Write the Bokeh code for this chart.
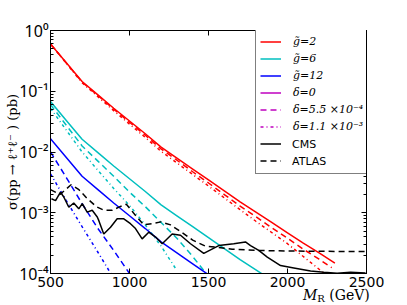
import numpy as np
from bokeh.plotting import figure
from bokeh.layouts import column
from bokeh.models import (Legend, LegendItem, LogAxis, LinearAxis, FixedTicker, Div,
                          Range1d, CustomJSTickFormatter)
from bokeh.embed import file_html
from bokeh.resources import INLINE

# ---------------- data (sigma given as log10 of pb) ----------------
mr_red = [500, 600, 700, 800, 900, 1000, 1100, 1200, 1300, 1400, 1500, 1600, 1700, 1800, 1900, 2000, 2100, 2200, 2300]
log_red_g2 = [-0.22, -0.53, -0.84, -1.06, -1.28, -1.49, -1.70, -1.92, -2.10, -2.28, -2.46, -2.64, -2.82, -2.99, -3.16, -3.33, -3.50, -3.66, -3.83]
mr_red_d55 = [500, 600, 700, 800, 900, 1000, 1100, 1200, 1300, 1400, 1500, 1600, 1700, 1800, 1900, 2000, 2100, 2200, 2280]
log_red_d55 = [-0.22, -0.535, -0.85, -1.07, -1.295, -1.51, -1.725, -1.95, -2.135, -2.325, -2.51, -2.70, -2.89, -3.065, -3.245, -3.42, -3.60, -3.765, -3.905]
mr_red_d11 = [500, 600, 700, 800, 900, 1000, 1100, 1200, 1300, 1400, 1500, 1600, 1700, 1800, 1900, 2000, 2100, 2200, 2230]
log_red_d11 = [-0.22, -0.54, -0.86, -1.09, -1.32, -1.54, -1.76, -1.99, -2.18, -2.37, -2.56, -2.755, -2.95, -3.14, -3.325, -3.51, -3.72, -3.93, -4.0]

mr_cyan = [500, 600, 700, 800, 900, 1000, 1100, 1200, 1300, 1400, 1500, 1600, 1700, 1800, 1900]
log_cyan_g6 = [-1.17, -1.48, -1.79, -2.01, -2.23, -2.44, -2.65, -2.87, -3.05, -3.23, -3.41, -3.59, -3.77, -3.94, -4.11]
mr_cyan_d55 = [500, 600, 700, 800, 900, 1000, 1100, 1200, 1300, 1400, 1500]
log_cyan_d55 = [-1.22, -1.56, -1.90, -2.15, -2.40, -2.66, -2.90, -3.16, -3.42, -3.72, -4.05]
mr_cyan_d11 = [500, 600, 700, 800, 900, 1000, 1100, 1200, 1300]
log_cyan_d11 = [-1.28, -1.64, -2.00, -2.30, -2.60, -2.88, -3.20, -3.55, -3.95]

mr_blue = [500, 600, 700, 800, 900, 1000, 1100, 1200, 1300, 1400, 1500]
log_blue_g12 = [-1.78, -2.09, -2.40, -2.62, -2.84, -3.05, -3.26, -3.48, -3.66, -3.84, -4.02]
mr_blue_d55 = [500, 600, 700, 800, 900, 1000]
log_blue_d55 = [-2.00, -2.42, -2.85, -3.26, -3.62, -4.00]
mr_blue_d11 = [500, 600, 700, 800, 900]
log_blue_d11 = [-2.36, -2.80, -3.23, -3.65, -4.08]

mr_cms = [506, 532, 563, 584, 616, 647, 679, 701, 732, 764, 796, 806, 837, 880, 922, 964, 1006, 1038,
          1080, 1122, 1165, 1207, 1270, 1323, 1386, 1470, 1565, 1660, 1734, 1766, 1818, 1872, 1956,
          2040, 2146, 2230, 2314, 2399, 2494]
log_cms = [-2.77, -2.80, -2.66, -2.74, -2.91, -2.84, -2.935, -2.85, -2.99, -2.96, -3.07, -3.13, -3.35, -3.24,
           -3.10, -3.10, -3.18, -3.26, -3.43, -3.32, -3.40, -3.51, -3.35, -3.37, -3.51, -3.67, -3.54, -3.51,
           -3.48, -3.54, -3.62, -3.73, -3.87, -3.91, -3.96, -3.98, -3.995, -3.98, -3.99]

mr_atlas = [500, 560, 630, 680, 730, 790, 840, 890, 940, 980, 1040, 1090, 1140, 1200, 1260, 1330, 1400,
            1480, 1560, 1650, 1800, 2000, 2500]
log_atlas = [-2.62, -2.70, -2.54, -2.62, -2.76, -2.90, -2.96, -2.96, -2.90, -2.86, -3.05, -3.20, -3.18,
             -3.15, -3.20, -3.32, -3.45, -3.55, -3.57, -3.60, -3.62, -3.63, -3.64]

legend_labels = ["g\u0303=2", "g\u0303=6", "g\u0303=12", "\u03b4=0",
                 "\u03b4=5.5 \u00d710\u207b\u2074", "\u03b4=1.1 \u00d710\u207b\u00b3"]
exp_labels = ["CMS", "ATLAS"]

x_ticks = [500, 1000, 1500, 2000, 2500]
y_tick_exps = [-4, -3, -2, -1, 0]
y_title = "\u03c3(pp \u2192 \u2113\u207a\u2113\u207b ) (pb)"

# ---------------- styles ----------------
RED, CYAN, BLUE, MAG = "#ff0000", "#00bfbf", "#0000ff", "#bf00bf"
DASH, DASHDOT = "6 4", "3 3 1 3"
LW = 1.5

p = figure(frame_width=316, frame_height=243, min_border_left=50, min_border_top=30,
           min_border_right=41, min_border_bottom=17,
           x_range=Range1d(500, 2500), y_range=Range1d(1e-4, 1), y_axis_type="log",
           output_backend="svg", toolbar_location=None)
p.grid.visible = False
p.outline_line_color = "black"
p.outline_line_width = 1
p.background_fill_color = "white"
p.border_fill_color = "white"


def sig(logs):
    return [10.0 ** v for v in logs]


r_red = p.line(mr_red, sig(log_red_g2), line_color=RED, line_width=LW)
p.line(mr_red_d55, sig(log_red_d55), line_color=RED, line_width=LW, line_dash=DASH)
p.line(mr_red_d11, sig(log_red_d11), line_color=RED, line_width=LW, line_dash=DASHDOT)

r_cyan = p.line(mr_cyan, sig(log_cyan_g6), line_color=CYAN, line_width=LW)
p.line(mr_cyan_d55, sig(log_cyan_d55), line_color=CYAN, line_width=LW, line_dash=DASH)
p.line(mr_cyan_d11, sig(log_cyan_d11), line_color=CYAN, line_width=LW, line_dash=DASHDOT)

r_blue = p.line(mr_blue, sig(log_blue_g12), line_color=BLUE, line_width=LW)
p.line(mr_blue_d55, sig(log_blue_d55), line_color=BLUE, line_width=LW, line_dash=DASH)
p.line(mr_blue_d11, sig(log_blue_d11), line_color=BLUE, line_width=LW, line_dash=DASHDOT)

r_cms = p.line(mr_cms, sig(log_cms), line_color="black", line_width=LW)
r_atlas = p.line(mr_atlas, sig(log_atlas), line_color="black", line_width=LW, line_dash=DASH)

# legend-only renderers (drawn outside the visible y range)
off_x = [500, 600]
off_y = [100.0, 100.0]
r_m0 = p.line(off_x, off_y, line_color=MAG, line_width=LW)
r_m1 = p.line(off_x, off_y, line_color=MAG, line_width=LW, line_dash=DASH)
r_m2 = p.line(off_x, off_y, line_color=MAG, line_width=LW, line_dash=DASHDOT)
r_inv1 = p.line(off_x, off_y, line_color="white", line_alpha=0)
r_inv2 = p.line(off_x, off_y, line_color="white", line_alpha=0)

# ---------------- axes ----------------
minor_y = [k * 10.0 ** e for e in range(-4, 0) for k in range(2, 10)]
yticker = FixedTicker(ticks=[10.0 ** e for e in y_tick_exps], minor_ticks=minor_y)
xticker = FixedTicker(ticks=x_ticks, minor_ticks=[])

yfmt = CustomJSTickFormatter(code="""
const e = Math.round(Math.log10(tick));
const sup = {'0':'\u2070','1':'\u00b9','2':'\u00b2','3':'\u00b3','4':'\u2074','-':'\u207b'};
return '10' + String(e).split('').map(c => sup[c]).join('');
""")

for ax in (p.xaxis[0], p.yaxis[0]):
    ax.major_tick_in = 5
    ax.major_tick_out = 0
    ax.minor_tick_in = 3
    ax.minor_tick_out = 0
    ax.axis_line_color = "black"
    ax.major_label_text_color = "black"

p.xaxis.ticker = xticker
p.yaxis.ticker = yticker
p.yaxis.formatter = yfmt
p.xaxis.major_label_text_font = "DejaVu Sans"
p.xaxis.major_label_text_font_size = "14px"
p.yaxis.major_label_text_font = "Noto Sans"
p.yaxis.major_label_text_font_size = "16px"
p.xaxis.major_label_standoff = 3
p.yaxis.major_label_standoff = 2

p.yaxis.axis_label = y_title
p.yaxis.axis_label_text_font = "DejaVu Serif"
p.yaxis.axis_label_text_font_style = "normal"
p.yaxis.axis_label_text_font_size = "13px"
p.yaxis.axis_label_text_color = "black"
p.yaxis.axis_label_standoff = -4

right_ax = LogAxis(ticker=yticker, major_label_text_font_size="5px", major_label_text_alpha=0,
                   major_tick_in=5, major_tick_out=0,
                   minor_tick_in=3, minor_tick_out=0, axis_line_color="black", major_label_standoff=0)
top_ax = LinearAxis(ticker=xticker, major_label_text_font_size="5px", major_label_text_alpha=0,
                    major_tick_in=5, major_tick_out=0,
                    minor_tick_in=0, minor_tick_out=0, axis_line_color="black", major_label_standoff=0)
p.add_layout(right_ax, "right")
p.add_layout(top_ax, "above")

# ---------------- legends ----------------
legA = Legend(items=[
    LegendItem(label=legend_labels[0], renderers=[r_red]),
    LegendItem(label=legend_labels[1], renderers=[r_cyan]),
    LegendItem(label=legend_labels[2], renderers=[r_blue]),
    LegendItem(label=legend_labels[3], renderers=[r_m0]),
    LegendItem(label=legend_labels[4], renderers=[r_m1]),
    LegendItem(label=legend_labels[5], renderers=[r_m2]),
    LegendItem(label="\u00a0", renderers=[r_cms]),
    LegendItem(label="\u00a0", renderers=[r_atlas]),
], location=(205, 99))
legB = Legend(items=[
    LegendItem(label=exp_labels[0], renderers=[r_inv1]),
    LegendItem(label=exp_labels[1], renderers=[r_inv2]),
], location=(205, 99))

for lg, font, style in ((legA, "DejaVu Serif", "italic"), (legB, "DejaVu Sans", "normal")):
    lg.label_text_font = font
    lg.label_text_font_style = style
    lg.label_text_font_size = "11px"
    lg.label_height = 17
    lg.glyph_height = 17
    lg.glyph_width = 21
    lg.label_standoff = 12
    lg.spacing = 0
    lg.padding = 4
    lg.margin = 0
    lg.label_text_color = "black"

legA.border_line_color = "black"
legA.border_line_width = 1
legA.background_fill_color = "white"
legA.background_fill_alpha = 1
legB.border_line_alpha = 0
legB.background_fill_alpha = 0

p.add_layout(legA)
p.add_layout(legB)

# x-axis title (right side, with subscript) below the plot
xlabel = Div(
    text=("<div style=\"padding-left:303px;font-family:'DejaVu Serif';position:relative;top:-2px;"
          "font-size:14px;line-height:13px;color:black;white-space:nowrap\">"
          "<i>M</i><sub style=\"font-size:10px;line-height:0;vertical-align:-2px\">R</sub>"
          "&nbsp;(GeV)</div>"),
    width=407, height=15, margin=0)

layout = column(p, xlabel, spacing=0)
open("out.html", "w").write(file_html(layout, INLINE))
